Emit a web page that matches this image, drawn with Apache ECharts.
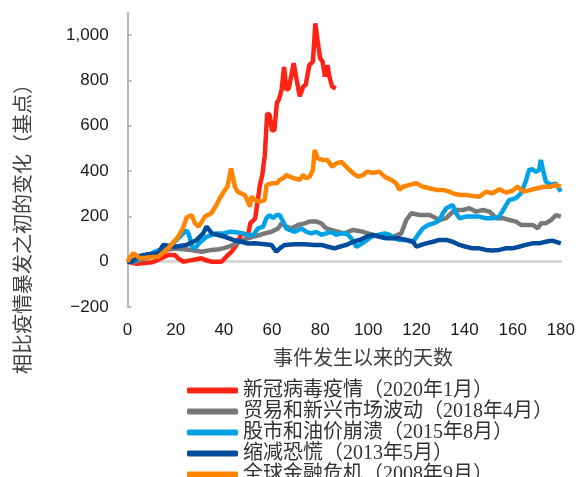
<!DOCTYPE html>
<html>
<head>
<meta charset="utf-8">
<script src="https://cdn.jsdelivr.net/npm/echarts@6/dist/echarts.min.js"></script>
<style>
html,body{margin:0;padding:0;background:#fff;}
#main{width:578px;height:477px;}
</style>
</head>
<body>
<div id="main"></div>
<script>
// [day, bp change]
var covid = [[0,0],[2,-6],[4,-9],[6,-7],[8,-5],[10,-3],[12,5],[14,15],[16.9,30],[19.6,30],[21,15],[23.1,0],[26.6,7],[30.7,15],[33,5],[35,0],[39,0],[41,22],[43.2,44],[45.3,74],[47.4,125],[50,118],[51,170],[53,190],[54,265],[55,340],[56,385],[57,470],[58,655],[59,648],[60,580],[61,580],[62,700],[63,720],[64,760],[65,860],[66,758],[67,765],[69,876],[70,817],[71.5,730],[73,773],[74,780],[75.5,868],[77,883],[78,1052],[79,971],[80,898],[81,883],[82,817],[83,868],[84,810],[85,773],[86.5,765]];
var trade = [[0,0],[2,-3],[4,2],[7,15],[10,22],[12.7,29],[15,45],[17.6,55],[20,58],[23,55],[26.6,52],[30.7,44],[33,48],[35,52],[38,55],[40,60],[43,70],[46,85],[49,100],[52,110],[55,118],[57,125],[59.8,132],[62.5,147],[63.9,169],[66,155],[68,147],[70.8,162],[73.6,169],[75.6,177],[78.4,177],[80.5,169],[82.5,147],[84.6,140],[87.4,132],[90,125],[93.7,140],[97.8,132],[102,118],[106.1,110],[110.3,110],[113.7,125],[115.8,184],[117.9,214],[121.3,206],[125.5,206],[128.2,192],[129.6,184],[132.4,192],[135.8,228],[139.3,228],[142,236],[144.8,221],[147.6,228],[150.4,221],[153.1,192],[155.9,192],[158.7,184],[161.4,177],[163.5,162],[166.3,162],[168.4,162],[170.4,147],[171.8,170],[173.9,170],[176,184],[178,206],[180,199]];
var oil = [[0,0],[3,8],[5,15],[7.2,22],[11.3,44],[15.5,59],[18.3,74],[21,103],[23.1,125],[24.5,138],[25.5,120],[26.6,70],[28,60],[30,85],[32.8,110],[35,118],[37,125],[40,125],[42.5,132],[45,130],[48,125],[50,118],[52.2,118],[54.2,147],[56.3,155],[57.7,192],[59,206],[60.4,192],[61.8,206],[63.2,206],[64.6,177],[66,147],[67.4,140],[69.4,132],[72.2,147],[74.3,132],[76.3,125],[78.4,132],[80.5,118],[82.5,125],[84.6,132],[86.7,118],[88.8,125],[90.9,125],[93,103],[95.1,66],[96.4,74],[98.5,88],[101.3,110],[104,118],[106.8,125],[108.9,118],[111,103],[113,96],[115.8,96],[117.9,88],[119.2,96],[120.6,118],[122.7,147],[124.8,162],[127.5,170],[129.6,184],[131,214],[132.4,236],[133.7,243],[135.1,250],[136.5,214],[137.9,192],[140.6,199],[143.4,199],[146.1,199],[148.9,192],[151.6,192],[154.4,199],[156.5,236],[158.5,272],[161.3,280],[163.4,302],[165.4,353],[166.8,405],[168.2,408],[169.6,397],[171,405],[171.7,449],[172.6,405],[173.8,353],[175.8,339],[177.9,346],[180,309]];
var taper = [[0,0],[1.7,0],[5,25],[8,32],[12.7,37],[14.8,74],[17,70],[19.6,66],[24.5,74],[28.7,96],[31.4,125],[32.8,155],[35,125],[37.6,118],[40.4,110],[43.9,96],[47.4,88],[50,80],[52.9,81],[57,77],[59.8,74],[61.8,44],[63.2,59],[65.3,74],[69.4,77],[73.6,77],[77.7,74],[80.5,74],[83.3,66],[86,59],[88.1,66],[90.9,74],[93.7,88],[96.4,96],[99.3,110],[102,118],[104.7,110],[107.5,103],[110.3,103],[113,103],[115.8,96],[118.6,88],[120,66],[122,74],[124.1,81],[126.9,88],[129.6,96],[132.4,96],[135.1,88],[137.9,74],[140.6,66],[143.4,59],[146.1,59],[148.9,52],[151.6,49],[154.4,52],[157.1,59],[159.9,59],[162.6,66],[165.4,74],[168.2,81],[170.9,81],[173.7,88],[176.4,93],[180,81]];
var gfc = [[0,0],[1,20],[2.4,37],[5.1,15],[8,18],[12.7,22],[16.9,59],[21,110],[23.1,150],[24.5,195],[26.6,206],[28,169],[29.5,155],[32.1,199],[34.8,214],[36.9,250],[38.3,280],[40.4,316],[41.5,331],[43,412],[44.6,331],[45.7,309],[47.4,300],[48.7,294],[50,265],[50.8,243],[51.5,287],[53,272],[55,265],[57,272],[57.7,339],[60,346],[62,346],[63.2,361],[64.6,368],[66,383],[67.4,375],[69.4,368],[71.5,361],[72.9,383],[74.3,368],[75.6,375],[77,405],[77.7,493],[79,456],[81,449],[83,449],[85,419],[86.7,434],[88.8,441],[90.9,419],[93.7,390],[95.9,375],[98,383],[99.3,397],[102,393],[104.7,397],[106.8,375],[109.6,361],[111.6,346],[113,317],[114.4,331],[117.2,339],[119.9,346],[122.7,331],[125.5,324],[128.2,317],[131,317],[133.7,309],[135.8,299],[138.6,294],[141.3,294],[143.4,290],[146.1,287],[148.9,309],[151.6,302],[154.4,320],[157.1,305],[159.9,313],[162,331],[164.7,309],[167.5,317],[170.2,324],[173,331],[175.8,331],[177.8,339],[180,331]];

var names = ['新冠病毒疫情（2020年1月）','贸易和新兴市场波动（2018年4月）','股市和油价崩溃（2015年8月）','缩减恐慌（2013年5月）','全球金融危机（2008年9月）'];
var colors = ['#ff2316','#787878','#00a2e5','#004c9c','#ff8500'];
var yTicks = [-200,0,200,400,600,800,1000];
var xName = '事件发生以来的天数';
var yName = '相比疫情暴发之初的变化（基点）';

var myChart = echarts.init(document.getElementById('main'));
var allData = [covid, trade, oil, taper, gfc];
var series = [];
for (var i = 0; i < allData.length; i++) {
	series.push({
		name: names[i],
		type: 'line',
		data: allData[i],
		showSymbol: false,
		symbol: 'none',
		smooth: false,
		lineStyle: {color: colors[i], width: 4.5},
		itemStyle: {color: colors[i]}
	});
}

var option = {
	animation: false,
	color: colors,
	grid: {left: 127.6, right: 16.6, top: 12.5, bottom: 170},
	xAxis: [{
		type: 'value', min: 0, max: 180, interval: 20,
		axisLine: {show: false, onZero: false},
		axisTick: {show: false},
		splitLine: {show: false},
		axisLabel: {margin: 15, fontSize: 17, color: '#1a1a1a', fontFamily: '"Liberation Sans", Arial'}
	}, {
		// zero line
		type: 'value', min: 0, max: 180, position: 'bottom',
		axisLine: {show: true, onZero: true, lineStyle: {color: '#d9d9d9', width: 3}},
		axisTick: {show: false},
		axisLabel: {show: false},
		splitLine: {show: false}
	}],
	yAxis: {
		type: 'value', min: -200, max: 1100,
		axisLine: {show: true, lineStyle: {color: '#a6a6a6', width: 1.6}},
		axisTick: {show: true, inside: true, length: 4, customValues: yTicks, lineStyle: {color: '#a6a6a6', width: 1.5}},
		splitLine: {show: false},
		axisLabel: {
			customValues: yTicks,
			margin: 19, fontSize: 17, color: '#1a1a1a', fontFamily: '"Liberation Sans", Arial',
			formatter: function (v) {
				if (v < 0) return '\u2212' + Math.abs(v);
				return String(v).replace(/\B(?=(\d{3})+(?!\d))/g, ',');
			}
		}
	},
	legend: {
		orient: 'vertical',
		left: 182, top: 375,
		height: 140,
		icon: 'roundRect',
		itemWidth: 51, itemHeight: 6,
		itemGap: 0,
		data: names,
		textStyle: {fontSize: 20, lineHeight: 21, color: '#333', fontFamily: '"Liberation Serif", "Noto Sans CJK SC"'}
	},
	graphic: [{
		type: 'text', x: 363, y: 357,
		style: {text: xName, fontSize: 20, fill: '#404040', fontFamily: '"Noto Sans CJK SC"', align: 'center', verticalAlign: 'middle'}
	}, {
		type: 'text', x: 22, y: 224, rotation: Math.PI / 2,
		style: {text: yName, fontSize: 20, fill: '#404040', fontFamily: '"Noto Sans CJK SC"', align: 'center', verticalAlign: 'middle'}
	}],
	series: series
};
myChart.setOption(option);
</script>
</body>
</html>
